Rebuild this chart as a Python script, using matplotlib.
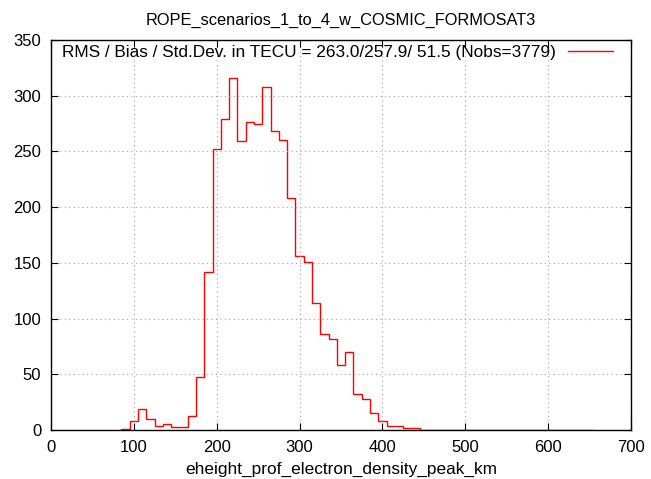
import numpy as np
import matplotlib
matplotlib.use("Agg")
import matplotlib.pyplot as plt

plt.rcParams['font.family'] = ['Liberation Sans', 'DejaVu Sans']

# histogram of peak heights, 10 km bins centred on 90 .. 650 km
bin_centers = np.arange(90, 651, 10)
counts = [1, 8, 19, 10, 4, 5, 3, 3, 13, 48,
          142, 252, 279, 316, 259, 276, 275, 308, 268, 260,
          208, 156, 151, 114, 86, 82, 58, 70, 32, 28,
          15, 8, 4, 4, 2, 2, 0, 0, 0, 0,
          0, 0, 0, 0, 0, 0, 0, 0, 0, 0,
          0, 0, 0, 0, 0, 0, 0]
bin_width = 10

title = "ROPE_scenarios_1_to_4_w_COSMIC_FORMOSAT3"
legend_label = "RMS / Bias / Std.Dev. in TECU = 263.0/257.9/ 51.5 (Nobs=3779)"
xlabel = "eheight_prof_electron_density_peak_km"

edges = np.append(bin_centers - bin_width / 2, bin_centers[-1] + bin_width / 2)

fig = plt.figure(figsize=(6.51, 4.79), dpi=100)
ax = fig.add_axes([51 / 651, 49 / 479, 580 / 651, 390 / 479])

ax.stairs(counts, edges, color='#ff0000', linewidth=1.0)

ax.set_xlim(0, 700)
ax.set_ylim(0, 350)
ax.set_xticks(np.arange(0, 701, 100))
ax.set_yticks(np.arange(0, 351, 50))
ax.grid(True, color='#a0a0a0', linestyle=(0, (1, 3)), linewidth=0.8)
ax.tick_params(direction='in', length=5, top=True, right=True, labelsize=12, pad=7)
for s in ax.spines.values():
    s.set_linewidth(1.0)
    s.set_color('black')

ax.set_title(title, fontsize=11.8, pad=11)
ax.set_xlabel(xlabel, fontsize=12.4, labelpad=5)

h = plt.Line2D([], [], color='#ff0000', linewidth=1.0)
ax.legend([h], [legend_label], loc='upper right', bbox_to_anchor=(0.969, 0.987),
          frameon=False, markerfirst=False, handlelength=2.6, fontsize=12.4,
          handletextpad=0.7, borderpad=0, borderaxespad=0)

fig.savefig("out.png", dpi=100)
